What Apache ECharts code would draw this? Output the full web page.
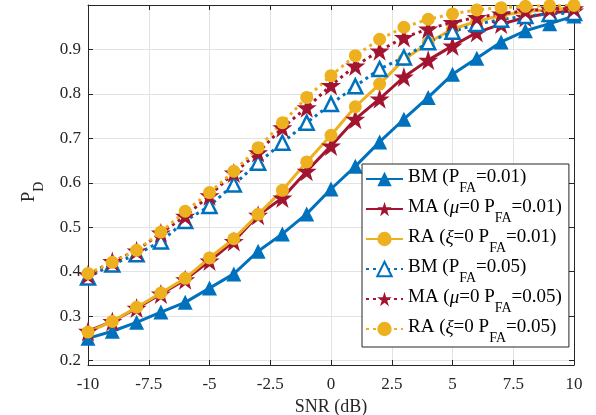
<!DOCTYPE html>
<html><head><meta charset="utf-8">
<script src="https://cdn.jsdelivr.net/npm/echarts@6/dist/echarts.min.js"></script>
<style>html,body{margin:0;padding:0;background:#fff}#c{width:596px;height:415px}</style>
</head><body><div id="c"></div>
<script>
const snr = [-10,-9,-8,-7,-6,-5,-4,-3,-2,-1,0,1,2,3,4,5,6,7,8,9,10];
const bm01 = [0.250,0.266,0.286,0.309,0.331,0.363,0.395,0.446,0.485,0.530,0.586,0.637,0.692,0.743,0.792,0.844,0.880,0.917,0.942,0.958,0.975];
const ma01 = [0.266,0.288,0.318,0.350,0.382,0.424,0.468,0.527,0.566,0.626,0.683,0.743,0.789,0.838,0.876,0.908,0.938,0.957,0.972,0.982,0.987];
const ra01 = [0.264,0.288,0.320,0.352,0.385,0.431,0.474,0.529,0.583,0.647,0.707,0.771,0.822,0.877,0.915,0.946,0.963,0.977,0.985,0.990,0.993];
const bm05 = [0.387,0.416,0.439,0.468,0.514,0.548,0.596,0.645,0.690,0.735,0.777,0.817,0.856,0.882,0.916,0.940,0.957,0.967,0.975,0.980,0.982];
const ma05 = [0.393,0.423,0.447,0.487,0.525,0.571,0.622,0.668,0.724,0.769,0.819,0.863,0.897,0.927,0.946,0.961,0.972,0.980,0.987,0.991,0.992];
const ra05 = [0.396,0.421,0.448,0.489,0.536,0.578,0.626,0.679,0.735,0.792,0.841,0.886,0.923,0.950,0.968,0.980,0.989,0.994,0.997,0.998,0.999];
const xTicks = [-10,-7.5,-5,-2.5,0,2.5,5,7.5,10];
const yTicks = [0.2,0.3,0.4,0.5,0.6,0.7,0.8,0.9];
const seriesNames = ['BM1','MA1','RA1','BM5','MA5','RA5'];
const legendLabels = [
  '{a|BM (P}{s|FA}{a|=0.01)}',
  '{a|MA (}{i|μ}{a|=0 P}{s|FA}{a|=0.01)}',
  '{a|RA (}{i|ξ}{a|=0 P}{s|FA}{a|=0.01)}',
  '{a|BM (P}{s|FA}{a|=0.05)}',
  '{a|MA (}{i|μ}{a|=0 P}{s|FA}{a|=0.05)}',
  '{a|RA (}{i|ξ}{a|=0 P}{s|FA}{a|=0.05)}'
];
const BLUE='#0072BD', RED='#A2142F', YEL='#EDB120';
const STAR='path://M50,0 L61.2,34.5 L97.6,34.5 L68.2,55.9 L79.4,90.5 L50,69.1 L20.6,90.5 L31.8,55.9 L2.4,34.5 L38.8,34.5 Z';
const FONT='Liberation Serif';
const AX='#262626';
function pairs(v){return snr.map((x,i)=>[x,v[i]]);}
function mk(name,data,color,symbol,size,dotted,hollow){
  return {name:name,type:'line',data:pairs(data),symbol:symbol,symbolSize:size,
    lineStyle:{color:color,width:3,type:dotted?[3,4]:'solid',cap:'butt'},
    itemStyle:{color:hollow?'#fff':color,borderColor:color,borderWidth:hollow?2.5:0},
    emphasis:{disabled:true},animation:false,z:2};
}
const chart = echarts.init(document.getElementById('c'),null,{renderer:'canvas'});
const rich = {
  a:{fontFamily:FONT,fontSize:19,color:'#000',lineHeight:22,verticalAlign:'top'},
  i:{fontFamily:FONT,fontSize:19,fontStyle:'italic',color:'#000',lineHeight:22,verticalAlign:'top'},
  s:{fontFamily:FONT,fontSize:14,color:'#000',lineHeight:15,padding:[13,0,0,0],verticalAlign:'top'}
};
chart.setOption({
  animation:false,
  backgroundColor:'#fff',
  grid:{left:88,right:22,top:5,bottom:50,containLabel:false,outerBoundsMode:'none'},
  legend:{orient:'vertical',left:362,top:164,padding:[4,7,2,3],itemWidth:37,itemHeight:18,itemGap:3,
    borderColor:AX,borderWidth:1,backgroundColor:'#fff',data:seriesNames,
    formatter:function(n){return legendLabels[seriesNames.indexOf(n)];},
    textStyle:{fontFamily:FONT,fontSize:19,color:'#000',rich:rich},selectedMode:false},
  xAxis:[{type:'value',min:-10,max:10,interval:2.5,position:'bottom',
    name:'SNR (dB)',nameLocation:'middle',nameGap:30,
    nameTextStyle:{fontFamily:FONT,fontSize:18,color:AX},
    axisLine:{show:true,onZero:false,lineStyle:{color:AX,width:1}},
    axisTick:{show:true,inside:true,length:5,lineStyle:{color:AX}},
    axisLabel:{fontFamily:FONT,fontSize:17,color:AX,margin:11,customValues:xTicks},
    splitLine:{show:true,lineStyle:{color:'#e3e3e3',width:1}}},
   {type:'value',min:-10,max:10,interval:2.5,position:'top',
    axisLine:{show:true,onZero:false,lineStyle:{color:AX,width:1}},
    axisTick:{show:true,inside:true,length:5,lineStyle:{color:AX}},
    axisLabel:{show:false},splitLine:{show:false}}],
  yAxis:[{type:'value',min:0.19,max:1.0,position:'left',
    name:'{p|P}{d|D}',nameLocation:'middle',nameGap:48,nameRotate:90,
    nameTextStyle:{padding:[0,14,0,0],rich:{p:{fontFamily:FONT,fontSize:19,color:AX,lineHeight:20,verticalAlign:'top'},d:{fontFamily:FONT,fontSize:14,color:AX,lineHeight:14,padding:[12,0,0,0],verticalAlign:'top'}}},
    axisLine:{show:true,onZero:false,lineStyle:{color:AX,width:1}},
    axisTick:{show:true,inside:true,length:5,lineStyle:{color:AX},customValues:yTicks},
    axisLabel:{fontFamily:FONT,fontSize:17,color:AX,margin:7,customValues:yTicks,formatter:function(v){return v.toFixed(1);}},
    splitLine:{show:true,lineStyle:{color:'#e3e3e3',width:1}}},
   {type:'value',min:0.19,max:1.0,position:'right',
    axisLine:{show:true,onZero:false,lineStyle:{color:AX,width:1}},
    axisTick:{show:true,inside:true,length:5,lineStyle:{color:AX},customValues:yTicks},
    axisLabel:{show:false},splitLine:{show:false}}],
  series:[
    mk('BM1',bm01,BLUE,'triangle',15,false,false),
    mk('MA1',ma01,RED,STAR,20,false,false),
    mk('RA1',ra01,YEL,'circle',13,false,false),
    mk('BM5',bm05,BLUE,'triangle',14,true,true),
    mk('MA5',ma05,RED,STAR,20,true,false),
    mk('RA5',ra05,YEL,'circle',13,true,false)
  ]
});
</script></body></html>
